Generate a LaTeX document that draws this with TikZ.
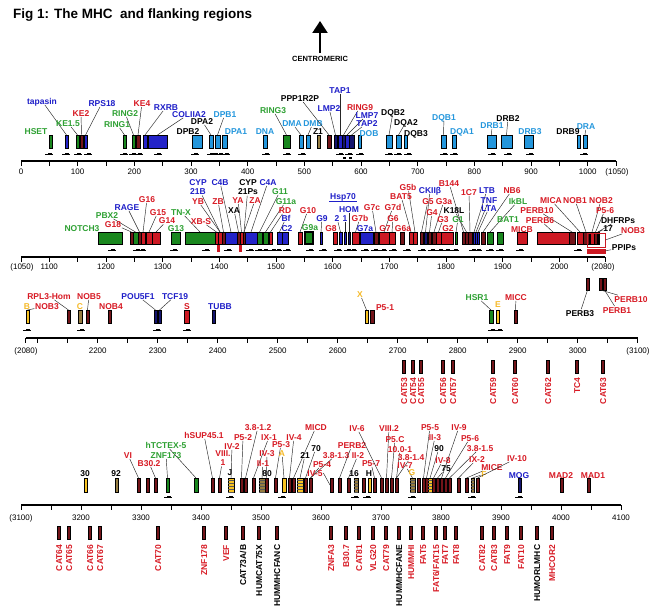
\documentclass[tikz,border=0pt]{standalone}
\usepackage{fontspec}
\setmainfont{Liberation Sans}
\usetikzlibrary{arrows.meta,patterns}
\definecolor{gred}{RGB}{205,25,35}
\definecolor{gdred}{RGB}{115,20,25}
\definecolor{ggreen}{RGB}{25,135,30}
\definecolor{gblue}{RGB}{35,35,200}
\definecolor{gnavy}{RGB}{20,20,110}
\definecolor{glblue}{RGB}{35,150,220}
\definecolor{gyel}{RGB}{248,195,35}
\definecolor{golive}{RGB}{150,125,65}
\definecolor{tred}{RGB}{215,25,35}
\definecolor{tgreen}{RGB}{45,160,50}
\definecolor{tblue}{RGB}{30,30,200}
\definecolor{tlblue}{RGB}{35,150,220}
\definecolor{tyel}{RGB}{245,185,40}
\tikzset{
  gbox/.style={draw=black,line width=0.4pt,inner sep=0pt,outer sep=0pt},
  lab/.style={font=\bfseries\fontsize{8.5}{9.5}\selectfont,inner sep=0.6pt,
    text height=6.2pt,text depth=0pt},
  labtwo/.style={font=\bfseries\fontsize{8.5}{9.5}\selectfont,inner sep=0.6pt,align=center},
  vlab/.style={lab,rotate=90,anchor=east},
  lead/.style={line width=0.45pt,black!85},
  num/.style={font=\fontsize{8}{9}\selectfont,inner sep=0pt},
  axisline/.style={line width=1.4pt},
  tickline/.style={line width=0.9pt},
  dirmark/.style={line width=0.5pt},
  stripes/.style={pattern=horizontal lines,pattern color=black!65}
}

\begin{document}
\begin{tikzpicture}[x=1pt,y=-1pt]
  \useasboundingbox (0,0) rectangle (660,610);

  % title and centromere arrow
  \node[anchor=base west,inner sep=0pt,font=\bfseries\fontsize{13.5}{15}\selectfont]
    (title) at (13,19) {Fig 1: The MHC\ \ and flanking regions};
  \node[inner sep=0pt,font=\bfseries\fontsize{7.5}{8}\selectfont] (centro) at (320,59) {CENTROMERIC};
  \coordinate (ctip) at (320,21);
  \draw[line width=2.2pt,-{Triangle[width=15pt,length=12pt]}] ([yshift=3pt]centro.north) -- (ctip);

  %%%%%%%%%%%%%%%%%%%% row 1 : 0 - 1050
  \draw[axisline] (21,161) -- (616,161);
  \foreach \k in {0,50,...,1050}
    \draw[tickline] ({21+0.5667*\k},161) -- ++(0,5);
  \foreach \k in {0,100,...,1000}
    \node[num] (a1-\k) at ({21+0.5667*\k},172) {\k};
  \node[num] (a1-end) at (617,172) {(1050)};

  \foreach \n/\a/\b/\c in {hset/49/52/ggreen, tapb/65/68/gblue, ke15/76/79/ggreen,
      ke2/80/83/gdred, rps18/84/87/gblue, ring1/123/126/ggreen, ring2/132/135/ggreen,
      ke4/136/140/gdred, rxrb/143/147/gblue, col/148/167/gblue, dpb2/192/202/glblue,
      dpa2/209/213/glblue, dpb1/215/220/glblue, dpa1/222/227/glblue, dna/263/267/glblue,
      ring3/283/290/ggreen, dma/299/303/glblue, dmb/306/310/glblue, z1/317/320/golive,
      ppp/327/331/gdred, lmp2/334/337/gnavy, tap1/338/342/gblue, ring9/342/345/gnavy,
      lmp7/345/349/gblue, tap2/349/354/gnavy, dob/358/361/glblue, dqb2/386/392/glblue,
      dqa2/396/401/glblue, dqb3/404/407/glblue, dqb1/441/446/glblue, dqa1/452/456/glblue,
      drb1/487/496/glblue, drb2/501/512/glblue, drb3/524/533/glblue, drb9/577/580/glblue,
      dra/583/587/glblue}
    \node[gbox,minimum height=13pt,minimum width={(\b-\a)*1pt},fill=\c] (\n) at ({(\a+\b)/2},141.5) {};

  \foreach \n/\x/\y/\t/\c/\b in {ltap/42/101/tapasin/tblue/tapb, lke15/68/123/KE1.5/tgreen/ke15,
      lke2/81/113/KE2/tred/ke2, lrps/102/103/RPS18/tblue/rps18, lring1/117/124/RING1/tgreen/ring1,
      lring2/125/113/RING2/tgreen/ring2, lke4/142/103/KE4/tred/ke4, lrxrb/166/107/RXRB/tblue/rxrb,
      lcol/189/114/COLIIA2/tblue/col, ldpa2/202/121/DPA2/black/dpa2, ldpb1/225/114/DPB1/tlblue/dpb1,
      lring3/273/110/RING3/tgreen/ring3, ldma/292/123/DMA/tlblue/dma, ldmb/313/123/DMB/tlblue/dmb,
      lppp/300/98/PPP1R2P/black/ppp, llmp2/329/108/LMP2/tblue/lmp2, ltap1/340/90/TAP1/tblue/tap1,
      lring9/360/107/RING9/tred/ring9, llmp7/367/115/LMP7/tblue/lmp7, ltap2/367/123/TAP2/tblue/tap2,
      ldqb2/393/112/DQB2/black/dqb2, ldqa2/406/122/DQA2/black/dqa2, ldqb1/444/117/DQB1/tlblue/dqb1,
      ldrb1/492/125/DRB1/tlblue/drb1, ldrb2/508/118/DRB2/black/drb2, ldra/586/126/DRA/tlblue/dra}
    {
    \node[lab,text=\c] (\n) at (\x,\y) {\t};
    \draw[lead] (\n) -- (\b.north);
    }
  \foreach \n/\x/\y/\t/\c in {lhset/36/131/HSET/tgreen, ldpb2/188/131/DPB2/black,
      ldpa1/236/131/DPA1/tlblue, ldna/265/131/DNA/tlblue, lz1/318/131/Z1/black,
      ldob/369/133/DOB/tlblue, ldqb3/416/133/DQB3/black, ldqa1/462/131/DQA1/tlblue,
      ldrb3/530/131/DRB3/tlblue, ldrb9/568/131/DRB9/black}
    \node[lab,text=\c] (\n) at (\x,\y) {\t};

  \foreach \x in {49,66,78,88,124,133,139,158,195,211,215,220,226,266,287,302,340,349,360,
      389,398,408,444,454,492,508,530,584}
    {
    \draw[dirmark] (\x-4,154) -- (\x+4,154);
    \fill (\x-1,152.6) rectangle (\x+2.5,155.4);
    }
  \fill (343,156.5) rectangle (346,158.8);
  \fill (349,156.5) rectangle (352,158.8);

  %%%%%%%%%%%%%%%%%%%% row 2 : 1050 - 2080
  \draw[axisline] (21,257) -- (605,257);
  \foreach \k in {1050,1100,...,2050}
    \draw[tickline] ({21+0.5667*(\k-1050)},257) -- ++(0,5);
  \draw[tickline] (605,257) -- ++(0,5);
  \foreach \k in {1100,1200,...,2000}
    \node[num] (a2-\k) at ({21+0.5667*(\k-1050)},267) {\k};
  \node[num] (a2-beg) at (22,267) {(1050)};
  \node[num] (a2-end) at (603,267) {(2080)};

  \foreach \n/\a/\b/\c in {notch3/98/122/ggreen, g18/130/133/gdred, pbx2/133/138/ggreen,
      rage/138/141/gdred, g16/141/145/gred, g15/146/152/gred, g14/152/160/gred,
      g13/171/180/ggreen, tnx/185/215/ggreen, xbs/215/218/gred, cyp21b/218/222/gred,
      zb/222/225/gdred, c4b/225/237/gblue, xa/237/240/gdred, ya/240/243/gred,
      cyp21ps/243/245/gdred, c4a/245/257/gblue, g11/257/262/ggreen, g11a/263/268/ggreen,
      rd/269/272/gred, bf/277/282/gblue, c2/282/288/gblue, g10/298/302/gred,
      g9/320/322/gblue, g8/333/337/gred, hsp2/339/342/gblue, hsp1/344/346/gblue,
      hom/348/350/gnavy, g7b/352/359/gred, g7a/360/373/gblue, g7c/374/378/gdred,
      g7/379/389/gred, g6/389/395/gred, g6a/400/404/gdred, bat5/409/413/gred,
      g5b/413/417/gred, g5/420/423/gdred, ckii/424/427/gnavy, g4/428/431/gdred,
      g3a/432/436/gdred, g3/436/441/gred, g2/441/453/gred, g1/455/457/ggreen,
      b144/462/465/gdred, k18l/465/468/gdred, c1c7/468/472/gdred, ltb/473/475/gblue,
      tnf/475/477/gblue, lta/477/479/gblue, nb6/481/485/gdred, ikbl/487/493/ggreen,
      bat1/497/503/ggreen, micb/517/527/gred, perb6/537/569/gred, perb10/569/575/gdred,
      mica/577/583/gred, nob1/583/589/gdred, nob2/590/594/gred, p56/594/597/gdred,
      b17/597/599/black}
    \node[gbox,minimum height=12pt,minimum width={(\b-\a)*1pt},fill=\c] (\n) at ({(\a+\b)/2},238) {};
  \node[gbox,line width=1.2pt,minimum height=12pt,minimum width=8pt,fill=ggreen] (g9a) at (309,238) {};
  \node[draw=gred,line width=0.7pt,inner sep=0pt,minimum width=18pt,minimum height=14pt] (ppout) at (596,240) {};
  \node[gbox,draw=gred,fill=gred,minimum width=18pt,minimum height=4pt] (ppips) at (596,251) {};

  \foreach \n/\x/\y/\t/\c/\b in {lpbx2/107/215/PBX2/tgreen/pbx2, lg18/113/224/G18/tred/g18,
      lrage/127/207/RAGE/tblue/rage, lg16/147/199/G16/tred/g16, lg15/158/212/G15/tred/g15,
      lg14/167/220.5/G14/tred/g14, ltnx/181/212/TN-X/tgreen/tnx, lxbs/201/221/XB-S/tred/xbs,
      lyb/198/201/YB/tred/cyp21b, lzb/218/201/ZB/tred/zb, lc4b/220/182/C4B/tblue/c4b,
      lxa/234/210/XA/black/xa, lya/238/200/YA/tred/ya, lza/255/200/ZA/tred/cyp21ps,
      lc4a/268/182/C4A/tblue/c4a, lg11/280/191/G11/tgreen/g11, lg11a/286/201/G11a/tgreen/g11a,
      lrd/285/210/RD/tred/rd, lbf/286/218/Bf/tblue/bf, lg10/308/210/G10/tred/g10,
      lg9/322/218/G9/tblue/g9, lh2/337/218/2/tblue/hsp2, lh1/345/218/1/tblue/hsp1,
      lhom/349/209/HOM/tblue/hom, lg7b/360/218/G7b/tred/g7b, lg7c/372/207/G7c/tred/g7c,
      lg7d/393/207/G7d/tred/g7, lg6/393/218/G6/tred/g6, lg5b/408/187/G5b/tred/g5b,
      lbat5/401/196/BAT5/tred/bat5, lckii/430/190/CKIIβ/tblue/ckii, lg5/428/201/G5/tred/g5,
      lg4/432/212/G4/tred/g4, lb144/449/183/B144/tred/b144, lg3a/444/201/G3a/tred/g3a,
      lk18l/454/210/K18L/black/k18l, lg3/443/219/G3/tred/g3, lg1/458/219/G1/tgreen/g1,
      l1c7/469/192/1C7/tred/c1c7, lltb/487/190/LTB/tblue/ltb, ltnf/489/200/TNF/tblue/tnf,
      llta/489/208/LTA/tblue/lta, lnb6/512/190/NB6/tred/nb6, likbl/518/201/IkBL/tgreen/ikbl,
      lmica/551/200/MICA/tred/mica, lnob1/575/200/NOB1/tred/nob1, lnob2/601/200/NOB2/tred/nob2,
      lperb10/537/210/PERB10/tred/perb10, lp56/605/210/P5-6/tred/p56,
      lperb6/540/220/PERB6/tred/perb6, ldhfr/618/220/DHFRPs/black/b17, l17/608/228/17/black/b17}
    {
    \node[lab,text=\c] (\n) at (\x,\y) {\t};
    \draw[lead] (\n) -- (\b.north);
    }
  \node[labtwo,text=tblue] (lcyp21b) at (198,187) {CYP\\21B};
  \draw[lead] (lcyp21b) -- (cyp21b.north);
  \node[labtwo,text=black] (lcyp21ps) at (248,187) {CYP\\21Ps};
  \draw[lead] (lcyp21ps) -- (cyp21ps.north);
  \node[lab,text=tblue] (lhsp) at (343,196) {Hsp70};
  \draw[tblue,line width=0.9pt] ([yshift=-2pt]lhsp.south west) -- ([yshift=-2pt]lhsp.south east);
  \node[lab,text=tred] (lnob3) at (633,230) {NOB3};
  \draw[lead] (lnob3) -- (ppout.east);
  \node[lab,text=black] (lppips) at (624,247) {PPIPs};
  \draw[lead] (lppips) -- (ppips.east);
  \foreach \n/\x/\y/\t/\c in {lnotch3/82/228/NOTCH3/tgreen, lg13/176/228.5/G13/tgreen,
      lc2/287/228/C2/tblue, lg9a/310/227/G9a/tgreen, lg8/331/228/G8/tred,
      lg7a/365/228/G7a/tblue, lg7/385/228/G7/tred, lg6a/403/228/G6a/tred,
      lg2/448/228/G2/tred, lbat1/508/219/BAT1/tgreen, lmicb/522/229/MICB/tred}
    \node[lab,text=\c] (\n) at (\x,\y) {\t};

  \foreach \x in {112,137,142,174,206,228,250,259,265,273,278,287,310,323,338,348,353,365,
      375,383,393,407,422,432,440,447,455,473,478,490,500,520,578}
    {
    \draw[dirmark] (\x-4,250) -- (\x+4,250);
    \fill (\x-1,248.6) rectangle (\x+2.5,251.4);
    }
  \foreach \x in {218,240}
    \fill[gred] (\x-1.5,245) rectangle (\x+1.5,252);

  %%%%%%%%%%%%%%%%%%%% row 3 : 2080 - 3100
  \foreach \n/\a/\b/\c in {perb3/586/589/gdred, perb10b/599/602/gdred, perb1/603/606/gdred}
    \node[gbox,minimum height=12pt,minimum width={(\b-\a)*1pt},fill=\c] (\n) at ({(\a+\b)/2},284) {};
  \node[lab,text=black] (lperb3) at (580,313) {PERB3};
  \draw[lead] (lperb3) -- (perb3.south);
  \node[lab,text=tred] (lperb10) at (631,299) {PERB10};
  \draw[lead] (lperb10) -- (perb10b.south);
  \node[lab,text=tred] (lperb1) at (617,310) {PERB1};
  \draw[lead] (lperb1) -- (perb1.south);

  \draw[axisline] (25.7,338) -- (638,338);
  \foreach \k in {2080,2100,2150,...,3100}
    \draw[tickline] ({25.7+0.6*(\k-2080)},338) -- ++(0,5);
  \foreach \k in {2200,2300,...,3000}
    \node[num] (a3-\k) at ({25.7+0.6*(\k-2080)},351) {\k};
  \node[num] (a3-beg) at (26,351) {(2080)};
  \node[num] (a3-end) at (638,351) {(3100)};

  \foreach \n/\a/\b/\c in {bb/26/29/gyel, rpl3/67/70/gdred, bc/78/82/golive, nob5/86/89/gdred,
      nob4/108/111/gdred, pou5f1/154/157/gnavy, tcf19/158/161/gnavy, bs/184/189/gred,
      tubb/212/215/gnavy, bx/365/368/gyel, p51/370/374/gdred, hsr1/489/493/ggreen,
      be/496/499/gyel, micc/514/517/gdred}
    \node[gbox,minimum height=13pt,minimum width={(\b-\a)*1pt},fill=\c] (\n) at ({(\a+\b)/2},316.5) {};

  \foreach \n/\x/\y/\t/\c/\b in {lnob3b/47/306/NOB3/tred/bb, lrpl3/49/296/RPL3-Hom/tred/rpl3,
      lnob5/89/296/NOB5/tred/nob5, lpou/138/296/POU5F1/tblue/pou5f1,
      ltcf/175/296/TCF19/tblue/tcf19, lx/360/294/X/tyel/bx, lhsr1/477/297/HSR1/tgreen/hsr1,
      lmicc/516/297/MICC/tred/micc}
    {
    \node[lab,text=\c] (\n) at (\x,\y) {\t};
    \draw[lead] (\n) -- (\b.north);
    }
  \foreach \n/\x/\y/\t/\c in {lb/27/306/B/tyel, lc/80/306/C/tyel, lnob4/111/306/NOB4/tred,
      ls/187/306/S/tred, ltubb/220/306/TUBB/tblue, lp51/385/307/P5-1/tred, le/498/304/E/tyel}
    \node[lab,text=\c] (\n) at (\x,\y) {\t};

  \foreach \x in {27,81,157,187,492,499}
    {
    \draw[dirmark] (\x-4,330) -- (\x+4,330);
    \fill (\x-1,328.6) rectangle (\x+2.5,331.4);
    }

  \foreach \n/\x/\t in {cat53/404/CAT53, cat54/413/CAT54, cat55/421/CAT55, cat56/443/CAT56,
      cat57/453/CAT57, cat59/493/CAT59, cat60/515/CAT60, cat62/548/CAT62, tc4/577/TC4,
      cat63/603/CAT63}
    {
    \node[gbox,fill=gdred,minimum width=3pt,minimum height=13pt] (\n) at (\x,366.5) {};
    \node[vlab,text=tred] (l\n) at (\x,377) {\t};
    }

  %%%%%%%%%%%%%%%%%%%% row 4 : 3100 - 4100
  \draw[axisline] (21,505) -- (621,505);
  \foreach \k in {3100,3150,...,4100}
    \draw[tickline] ({21+0.6*(\k-3100)},505) -- ++(0,5);
  \foreach \k in {3200,3300,...,4100}
    \node[num] (a4-\k) at ({21+0.6*(\k-3100)},518) {\k};
  \node[num] (a4-beg) at (21,518) {(3100)};

  \foreach \n/\a/\b/\c in {b30/84/87/gyel, b92/115/118/golive, vi/137/140/gdred,
      b302a/146/149/gdred, b302b/154/157/gdred, znf173/166/169/ggreen, htctex/194/198/ggreen,
      hsup/211/214/gdred, r4a/218/221/gdred, bj/228/234/gyel, r4b/240/243/gdred,
      r4c/244/247/gdred, r4d/252/255/gdred, b80/259/265/golive, r4e/265/268/gdred,
      r4f/274/277/gdred, ba/282/286/gyel, r4g/288/291/gdred, r4h/292/295/gdred,
      b21/297/303/gyel, r4i/304/307/gdred, r4j/309/312/gdred, r4k/330/333/gdred,
      r4l/338/341/gdred, r4m/347/350/gdred, b16/354/358/golive, r4n/362/365/gdred,
      bh/368/371/gyel, r4o/373/376/gdred, r4p/380/383/gdred, r4q/385/388/gdred,
      r4r/390/393/gdred, r4s/395/398/gdred, bg/410/415/golive, r4t/417/420/gdred,
      r4u/422/425/gdred, r4v/425/428/gdred, b90/428/432/gyel, r4w/432/435/gdred,
      r4x/436/439/gdred, r4y/440/443/gdred, r4z/444/447/gdred, r4aa/448/451/gdred,
      r4ab/457/460/gdred, r4ac/465/468/gdred, bf4/471/474/golive, r4ad/476/479/gdred,
      mog/518/521/gnavy, mad2/560/563/gdred, mad1/587/590/gdred}
    \node[gbox,minimum height=14pt,minimum width={(\b-\a)*1pt},fill=\c] (\n) at ({(\a+\b)/2},485) {};
  \foreach \n in {bj,b80,b21,b16,bg,b90,bf4}
    \path[stripes] (\n.south west) rectangle (\n.north east);

  \foreach \n/\x/\y/\t/\c/\b in {lvi/128/455/VI/tred/vi, lb302/149/463/B30.2/tred/b302b,
      lhtc/166/445/hTCTEX-5/tgreen/htctex, lznf/166/455/ZNF173/tgreen/znf173,
      lhsup/204/435/hSUP45.1/tred/hsup, liv2/232/446/IV-2/tred/bj, lp52/243/437/P5-2/tred/r4b,
      l3812/258/427/3.8-1.2/tred/r4c, lix1/269/437/IX-1/tred/r4d, liv3/267/453/IV-3/tred/r4e,
      lii1/263/463/II-1/tred/b80, lp53/281/444/P5-3/tred/r4f, liv4/294/437/IV-4/tred/r4g,
      la/282/453/A/tyel/ba, lmicd/316/427/MICD/tred/r4h, l21/305/455/21/black/b21,
      l70/316/448/70/black/r4i, l3813/336/455/3.8-1.3/tred/r4j, lp54/322/464/P5-4/tred/r4j,
      lperb2/352/445/PERB2/tred/r4l, lii2/358/455/II-2/tred/r4m, lp57/371/463/P5-7/tred/r4o,
      liv6/357/428/IV-6/tred/r4p, lviii2/389/428/VIII.2/tred/r4q, lp5c/395/439/P5.C/tred/r4r,
      l1001/400/449/10.0-1/tred/r4s, l3814/411/457/3.8-1.4/tred/r4s, liv7/405/465/IV-7/tred/bg,
      lp55/430/427/P5-5/tred/r4u, lii3/435/437/II-3/tred/r4v, l90/439/448/90/black/b90,
      liv8/443/460/IV-8/tred/r4w, l75/446/468.5/75/black/r4x, liv9/459/427/IV-9/tred/r4y,
      lp56b/470/438/P5-6/tred/r4z, l3815/480/448/3.8-1.5/tred/r4aa, lix2/477/459/IX-2/tred/r4ab,
      lmice/492/467/MICE/tred/r4ac, lf/484/474/F/tyel/bf4, liv10/517/458/IV-10/tred/r4ad}
    {
    \node[lab,text=\c] (\n) at (\x,\y) {\t};
    \draw[lead] (\n) -- (\b.north);
    }
  \node[labtwo,text=tred] (lviii1) at (223,458) {VIII.\\1};
  \draw[lead] (lviii1) -- (r4a.north);
  \node[lab,text=tred] (liv5) at (315,473) {IV-5};
  \draw[lead] (liv5.east) -- (r4k.west);
  \foreach \n/\x/\y/\t/\c in {l30/85/473/30/black, l92/116/473/92/black, lj/230/472/J/black,
      l80/267/473/80/black, l16/354/473/16/black, lh/369/473/H/black,
      lg/412/472/G/tyel, lmog/519/475/MOG/tblue, lmad2/561/475/MAD2/tred,
      lmad1/593/475/MAD1/tred}
    \node[lab,text=\c] (\n) at (\x,\y) {\t};

  \foreach \x in {168,230,282,355,367,412,472,519}
    {
    \draw[dirmark] (\x-4,497) -- (\x+4,497);
    \fill (\x-1,495.6) rectangle (\x+2.5,498.4);
    }

  \foreach \n/\x/\t/\c in {cat64/59/CAT64/tred, cat65/69/CAT65/tred, cat66/90/CAT66/tred,
      cat67/100/CAT67/tred, cat70/158/CAT70/tred, znf178/204/ZNF178/tred, vef/226/VEF/tred,
      cat73/243/{CAT73A/B}/black, hcat75/259/HUMCAT75X/black, hfanc/277/HUMMHCFANC/black,
      znfa3/331/ZNFA3/tred, b307/346/B30.7/tred, cat81/359/CAT81/tred, vlg20/373/VLG20/tred,
      cat79/386/CAT79/tred, hfane/399/HUMMHCFANE/black, hummhi/411/HUMMHI/tred,
      fat5/423/FAT5/tred, fat6/436/{FAT6/FAT15}/tred, fat7/445/FAT7/tred, fat8/456/FAT8/tred,
      cat82/482/CAT82/tred, cat83/494/CAT83/tred, fat9/507/FAT9/tred, fat10/521/FAT10/tred,
      horl/537/HUMORLMHC/black, mhcor2/552/MHCOR2/tred}
    {
    \node[gbox,fill=gdred,minimum width=3pt,minimum height=13pt] (\n) at (\x,532.5) {};
    \node[vlab,text=\c] (l\n) at (\x,544) {\t};
    }
\end{tikzpicture}
\end{document}
